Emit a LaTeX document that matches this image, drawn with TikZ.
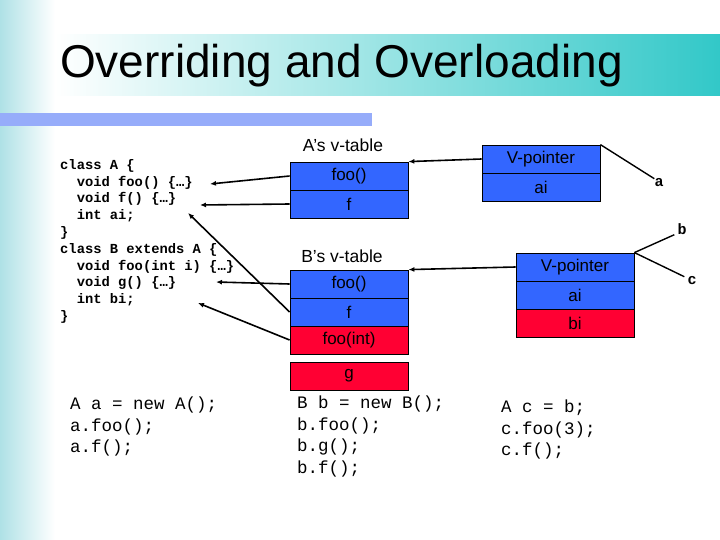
\documentclass[tikz,border=0pt]{standalone}
\usepackage{fontspec}
\setmainfont{Liberation Sans}
\newfontfamily\cmono{Liberation Mono}
\usetikzlibrary{arrows.meta,calc}
\definecolor{vblue}{RGB}{51,102,255}
\definecolor{vred}{RGB}{255,0,51}
\definecolor{teal1}{RGB}{50,200,200}
\definecolor{barblue}{RGB}{150,172,250}
\definecolor{strip}{RGB}{175,225,230}
\tikzset{
 cell/.style={draw=black,line width=0.8pt,minimum width=118pt,minimum height=28pt,inner sep=0pt,font=\fontsize{17}{17}\selectfont},
 bcell/.style={cell,fill=vblue},
 rcell/.style={cell,fill=vred},
 lab/.style={font=\fontsize{17.5}{17.5}\selectfont,inner sep=0pt},
 code/.style={font=\cmono\bfseries\fontsize{13.8}{16.8}\selectfont,align=left,anchor=north west,inner sep=0pt},
 bcode/.style={font=\cmono\fontsize{17.5}{21.5}\selectfont,align=left,anchor=north west,inner sep=0pt},
 ptr/.style={line width=1.6pt,-{Latex[length=6pt,width=5pt]}},
 ln/.style={line width=1.4pt},
 var/.style={font=\cmono\bfseries\fontsize{15}{15}\selectfont,inner sep=0pt}
}
\begin{document}
\begin{tikzpicture}[x=1pt,y=-1pt]
\useasboundingbox (0,0) rectangle (720,540);
\fill[white] (0,0) rectangle (720,540);
\shade[left color=strip,right color=white] (0,0) rectangle (55,540);
\shade[left color=white,right color=teal1] (55,35) rectangle (720,96);
\fill[barblue] (0,113) rectangle (372,126);
\node[anchor=west,inner sep=0pt,font=\fontsize{46}{46}\selectfont] (title) at (60,66) {Overriding and Overloading};

% code
\node[code] (codeA) at (60,159) {class A \{\\\ \ void foo() \{…\}\\\ \ void f() \{…\}\\\ \ int ai;\\\}\\class B extends A \{\\\ \ void foo(int i) \{…\}\\\ \ void g() \{…\}\\\ \ int bi;\\\}};
\coordinate (cfoo) at (210,184);
\coordinate (cf) at (200,205);
\coordinate (cf2) at (188,213);
\coordinate (cg) at (216,282);
\coordinate (cbi) at (198,303);

% A vtable
\node[lab] (alab) at (343,145) {A’s v-table};
\node[bcell] (afoo) at (349,176) {foo()};
\node[bcell] (af) at (349,204) {f};
% B vtable
\node[lab] (blab) at (342,256) {B’s v-table};
\node[bcell] (bfoo) at (349,284) {foo()};
\node[bcell] (bf) at (349,312) {f};
\node[rcell] (bfi) at (349,340) {foo(int)};
\node[rcell] (bg) at (349,376) {g};

% objects
\node[bcell] (vp1) at (541,159) {V-pointer};
\node[bcell] (ai1) at (541,187) {ai};
\node[bcell] (vp2) at (575,267) {V-pointer};
\node[bcell] (ai2) at (575,295) {ai};
\node[rcell] (bi2) at (575,323) {bi};

\node[var] (va) at (659,183) {a};
\node[var] (vb) at (682,229) {b};
\node[var] (vc) at (692,281) {c};

% pointers
\draw[ptr] (afoo.west) -- (cfoo);
\draw[ptr] (af.west) -- (cf);
\draw[ptr] (bf.west) -- (cf2);
\draw[ptr] (bfoo.west) -- (cg);
\draw[ptr] (bfi.west) -- (cbi);
\draw[ptr] (vp1.west) -- (afoo.north east);
\draw[ptr] (vp2.west) -- (bfoo.north east);
\draw[ln] (vp1.north east) -- (va.north west);
\draw[ln] (vp2.north east) -- ($(vb.south west)+(-3,0)$);
\draw[ln] (vp2.north east) -- ($(vc.north west)+(-3,0)$);

% bottom code
\node[bcode] (ca) at (70,397) {A a = new A();\\a.foo();\\a.f();};
\node[bcode] (cb) at (297,396) {B b = new B();\\b.foo();\\b.g();\\b.f();};
\node[bcode] (cc) at (501,400) {A c = b;\\c.foo(3);\\c.f();};
\end{tikzpicture}
\end{document}
